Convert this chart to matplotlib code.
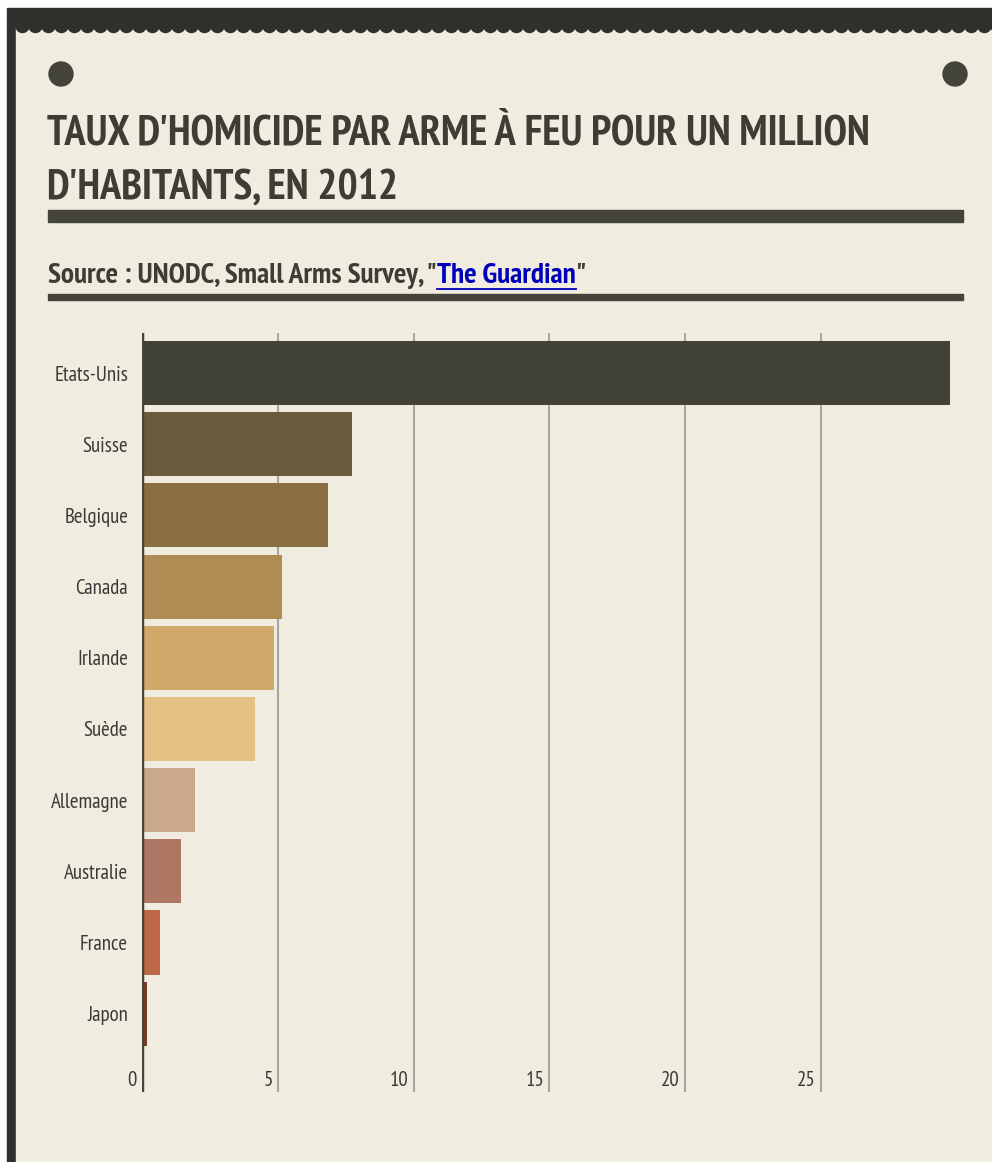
import matplotlib
matplotlib.use("Agg")
import matplotlib.pyplot as plt
from matplotlib.patches import Rectangle, Circle

# data
countries = ["Etats-Unis", "Suisse", "Belgique", "Canada", "Irlande",
             "Suède", "Allemagne", "Australie", "France", "Japon"]
rates = [29.7, 7.7, 6.8, 5.1, 4.8, 4.1, 1.9, 1.4, 0.6, 0.15]
colors = ["#434237", "#6b5a3e", "#8b6e42", "#b08b54", "#d0a86a",
          "#e6c184", "#c9a98a", "#ae7763", "#bc6846", "#7a3a20"]
xticks = [0, 5, 10, 15, 20, 25]

title_lines = ["TAUX D'HOMICIDE PAR ARME À FEU POUR UN MILLION",
               "D'HABITANTS, EN 2012"]
source_txt = 'Source : UNODC, Small Arms Survey, "'
link_txt = "The Guardian"

W, H = 992, 1162
BG = "#f0ece0"
DARK = "#2f2f2b"
INK = "#3d3d35"
FONT = ["PT Sans Narrow", "DejaVu Sans"]

fig = plt.figure(figsize=(W / 100, H / 100), dpi=100)
fig.patch.set_facecolor("white")

# background layer in pixel coordinates
bg = fig.add_axes([0, 0, 1, 1])
bg.set_xlim(0, W)
bg.set_ylim(H, 0)
bg.axis("off")
bg.add_patch(Rectangle((7, 8), W, H, color=DARK, zorder=0))
bg.add_patch(Rectangle((16, 27), W, H, color=BG, zorder=1))
# scallops along top edge
x = 16
while x < W + 13:
    bg.add_patch(Circle((x + 6.5, 26), 6.5, color=DARK, zorder=2))
    x += 13
bg.add_patch(Circle((61, 74), 12, color="#45443a", zorder=3))
bg.add_patch(Circle((955, 74), 12, color="#45443a", zorder=3))

for i, line in enumerate(title_lines):
    bg.text(47, 134 + i * 54, line, fontsize=30.5, fontweight="bold",
            family=FONT, color=INK, va="center", ha="left", zorder=4)
bg.add_patch(Rectangle((48, 210), 915, 12, color="#45443a", zorder=4))

fs_src = 21.2
src = bg.text(48, 276, source_txt, fontsize=fs_src, fontweight="bold",
              family=FONT, color=INK, va="center", ha="left", zorder=4)
fig.canvas.draw()
r = fig.canvas.get_renderer()
inv = bg.transData.inverted()
ext = src.get_window_extent(r)
x1 = inv.transform((ext.x1, ext.y0))[0]
lnk = bg.text(x1, 276, link_txt, fontsize=fs_src, fontweight="bold",
              family=FONT, color="#0000bb", va="center", ha="left", zorder=4)
ext2 = lnk.get_window_extent(r)
x2 = inv.transform((ext2.x1, ext2.y0))[0]
bg.plot([x1, x2], [289, 289], color="#0000bb", lw=1.3, zorder=4)
bg.text(x2, 276, '"', fontsize=fs_src, fontweight="bold", family=FONT,
        color=INK, va="center", ha="left", zorder=4)
bg.add_patch(Rectangle((48, 294), 915, 6, color="#45443a", zorder=4))

# chart
px_per_unit = 27.15
ax = fig.add_axes([142 / W, 1 - 1092 / H, 30 * px_per_unit / W, (1092 - 333) / H])
ax.set_facecolor("none")
ax.set_xlim(0, 30)
ax.set_ylim(10.1, -0.562)
for t in xticks[1:]:
    ax.axvline(t, color="#aaa69b", lw=1.5, zorder=1)
ax.barh(range(len(countries)), rates, height=0.9, color=colors, zorder=2,
        left=0.05)
ax.axvline(0, color="#45443a", lw=2.5, zorder=3)
for s in ax.spines.values():
    s.set_visible(False)
ax.set_xticks([])
ax.set_yticks(range(len(countries)))
ax.set_yticklabels(countries, family=FONT, fontsize=15, color="#3a3a36")
ax.tick_params(axis="y", length=0, pad=10)
for t in xticks:
    ax.annotate(str(t), (t, 9.94), xytext=(-5, 0), textcoords="offset pixels",
                ha="right", va="center", family=FONT, fontsize=15,
                color="#3a3a36")

fig.savefig("out.png", dpi=100, facecolor=fig.get_facecolor())
